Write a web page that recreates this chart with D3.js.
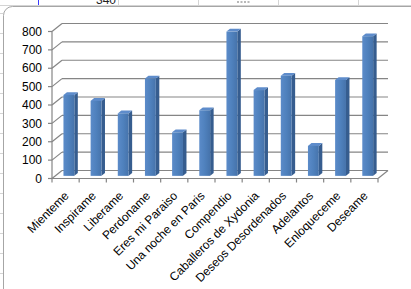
<!DOCTYPE html>
<html>
<head>
<meta charset="utf-8">
<script src="https://cdnjs.cloudflare.com/ajax/libs/d3/7.8.5/d3.min.js"></script>
<style>
body { margin: 0; background: #ffffff; }
svg { display: block; }
</style>
</head>
<body>
<div id="canvas"></div>
<script>
"use strict"

let categories = ["Mienteme", "Inspirame", "Liberame", "Perdoname", "Eres mi Paraiso",
    "Una noche en Paris", "Compendio", "Caballeros de Xydonia", "Deseos Desordenados",
    "Adelantos", "Enloqueceme", "Deseame"];
let values = [440, 408, 340, 530, 237, 357, 785, 467, 545, 163, 522, 760];
let yTicks = [0, 100, 200, 300, 400, 500, 600, 700, 800];

let drawingWidth = 411;
let drawingHeight = 289;

// 3d depth of the plot box
let depthX = 10;
let depthY = -8;
let barFront = 0.33;
let barBack = 0.68;

let drawing = d3.select("#canvas")
    .append("svg")
    .attr("width", drawingWidth)
    .attr("height", drawingHeight)
    .style("font-family", "'Liberation Sans', Arial, sans-serif");

// spreadsheet behind the chart
drawing.append("rect")
    .attr("width", drawingWidth)
    .attr("height", drawingHeight)
    .attr("fill", "#ffffff");

[118, 198, 278, 358].forEach(function(cx) {
    drawing.append("line")
        .attr("x1", cx + 0.5).attr("x2", cx + 0.5)
        .attr("y1", 0).attr("y2", 6)
        .attr("stroke", "#d4d4d4");
});
drawing.append("line")
    .attr("x1", 38.5).attr("x2", 38.5)
    .attr("y1", 0).attr("y2", 6)
    .attr("stroke", "#3a3aff");
drawing.append("line")
    .attr("x1", 0).attr("x2", drawingWidth)
    .attr("y1", 5.5).attr("y2", 5.5)
    .attr("stroke", "#d4d4d4");
// cell value peeking out above the chart (cut off in the original too)
drawing.append("text")
    .attr("x", 116)
    .attr("y", 4)
    .attr("text-anchor", "end")
    .attr("font-size", 12)
    .attr("fill", "#222")
    .text("340");
for (let i = 0; i < 4; i++) {
    drawing.append("rect")
        .attr("x", 237 + i * 3.5).attr("y", 1)
        .attr("width", 2).attr("height", 2)
        .attr("fill", "#b8b8b8");
}
for (let ry = 13; ry < drawingHeight; ry += 20) {
    drawing.append("line")
        .attr("x1", 0).attr("x2", 3)
        .attr("y1", ry + 0.5).attr("y2", ry + 0.5)
        .attr("stroke", "#d4d4d4");
}

// chart area
drawing.append("rect")
    .attr("x", 3.5)
    .attr("y", 6.5)
    .attr("width", 430)
    .attr("height", 310)
    .attr("rx", 9)
    .attr("fill", "#ffffff")
    .attr("stroke", "#a6a6a6");

let xScale = d3.scaleBand()
    .domain(categories)
    .range([52, 378])
    .paddingInner(0)
    .paddingOuter(0);

let yScale = d3.scaleLinear()
    .domain([0, 800])
    .range([178.5, 31.5]);

let grid = drawing.append("g")
    .attr("stroke", "#858585")
    .attr("stroke-width", 1.2)
    .attr("fill", "none");

// back wall gridlines and side wall diagonals
yTicks.forEach(function(v) {
    let yy = yScale(v);
    grid.append("line")
        .attr("x1", 52 + depthX).attr("x2", 378 + depthX)
        .attr("y1", yy + depthY).attr("y2", yy + depthY);
    grid.append("line")
        .attr("x1", 52).attr("x2", 52 + depthX)
        .attr("y1", yy).attr("y2", yy + depthY);
    grid.append("line")
        .attr("x1", 48).attr("x2", 52)
        .attr("y1", yy).attr("y2", yy);
});

// floor edges and vertical axis
let y0 = yScale(0);
grid.append("line")
    .attr("x1", 52).attr("x2", 52)
    .attr("y1", yScale(800)).attr("y2", y0);
grid.append("line")
    .attr("x1", 52).attr("x2", 378)
    .attr("y1", y0).attr("y2", y0);
grid.append("line")
    .attr("x1", 378).attr("x2", 378 + depthX)
    .attr("y1", y0).attr("y2", y0 + depthY);

let boundaries = categories.map(function(c) { return xScale(c); }).concat([378]);
boundaries.forEach(function(bx) {
    grid.append("line")
        .attr("x1", bx).attr("x2", bx)
        .attr("y1", y0).attr("y2", y0 + 4);
});

// y labels
drawing.append("g")
    .selectAll("text")
    .data(yTicks)
    .join("text")
    .attr("x", 42)
    .attr("y", function(d) { return yScale(d); })
    .attr("dy", "0.35em")
    .attr("text-anchor", "end")
    .attr("font-size", 12)
    .attr("fill", "#000")
    .text(function(d) { return d; });

// bar colours
let defs = drawing.append("defs");
let grad = defs.append("linearGradient")
    .attr("id", "barFront")
    .attr("x1", "0").attr("x2", "1")
    .attr("y1", "0").attr("y2", "0");
grad.append("stop").attr("offset", "0").attr("stop-color", "#5b8bc9");
grad.append("stop").attr("offset", "0.5").attr("stop-color", "#4f81bd");
grad.append("stop").attr("offset", "1").attr("stop-color", "#4673ab");

let bw = xScale.bandwidth();
let faceW = bw * 0.4;
let fdx = depthX * barFront, fdy = depthY * barFront;
let sdx = depthX * (barBack - barFront), sdy = depthY * (barBack - barFront);

let bars = drawing.append("g")
    .selectAll("g")
    .data(categories.map(function(c, i) { return { name: c, value: values[i] }; }))
    .join("g");

function barGeom(d) {
    let xl = xScale(d.name) + bw / 2 - faceW / 2 + fdx;
    let xr = xl + faceW;
    let yb = y0 + fdy;
    let yt = yScale(d.value) + fdy;
    return { xl: xl, xr: xr, yb: yb, yt: yt };
}

bars.append("polygon")
    .attr("points", function(d) {
        let g = barGeom(d);
        return [[g.xr, g.yt], [g.xr + sdx, g.yt + sdy], [g.xr + sdx, g.yb + sdy], [g.xr, g.yb]].join(" ");
    })
    .attr("fill", "#365d8f");

bars.append("polygon")
    .attr("points", function(d) {
        let g = barGeom(d);
        return [[g.xl, g.yt], [g.xr, g.yt], [g.xr + sdx, g.yt + sdy], [g.xl + sdx, g.yt + sdy]].join(" ");
    })
    .attr("fill", "#5e8ccb");

bars.append("rect")
    .attr("x", function(d) { return barGeom(d).xl; })
    .attr("y", function(d) { return barGeom(d).yt; })
    .attr("width", faceW)
    .attr("height", function(d) { let g = barGeom(d); return g.yb - g.yt; })
    .attr("fill", "url(#barFront)");

// category labels
drawing.append("g")
    .selectAll("text")
    .data(categories)
    .join("text")
    .attr("transform", function(d) {
        return "translate(" + (xScale(d) + bw / 2 + 4) + "," + (y0 + 18) + ") rotate(-45)";
    })
    .attr("text-anchor", "end")
    .attr("font-size", 12)
    .attr("fill", "#000")
    .text(function(d) { return d; });
</script>
</body>
</html>
